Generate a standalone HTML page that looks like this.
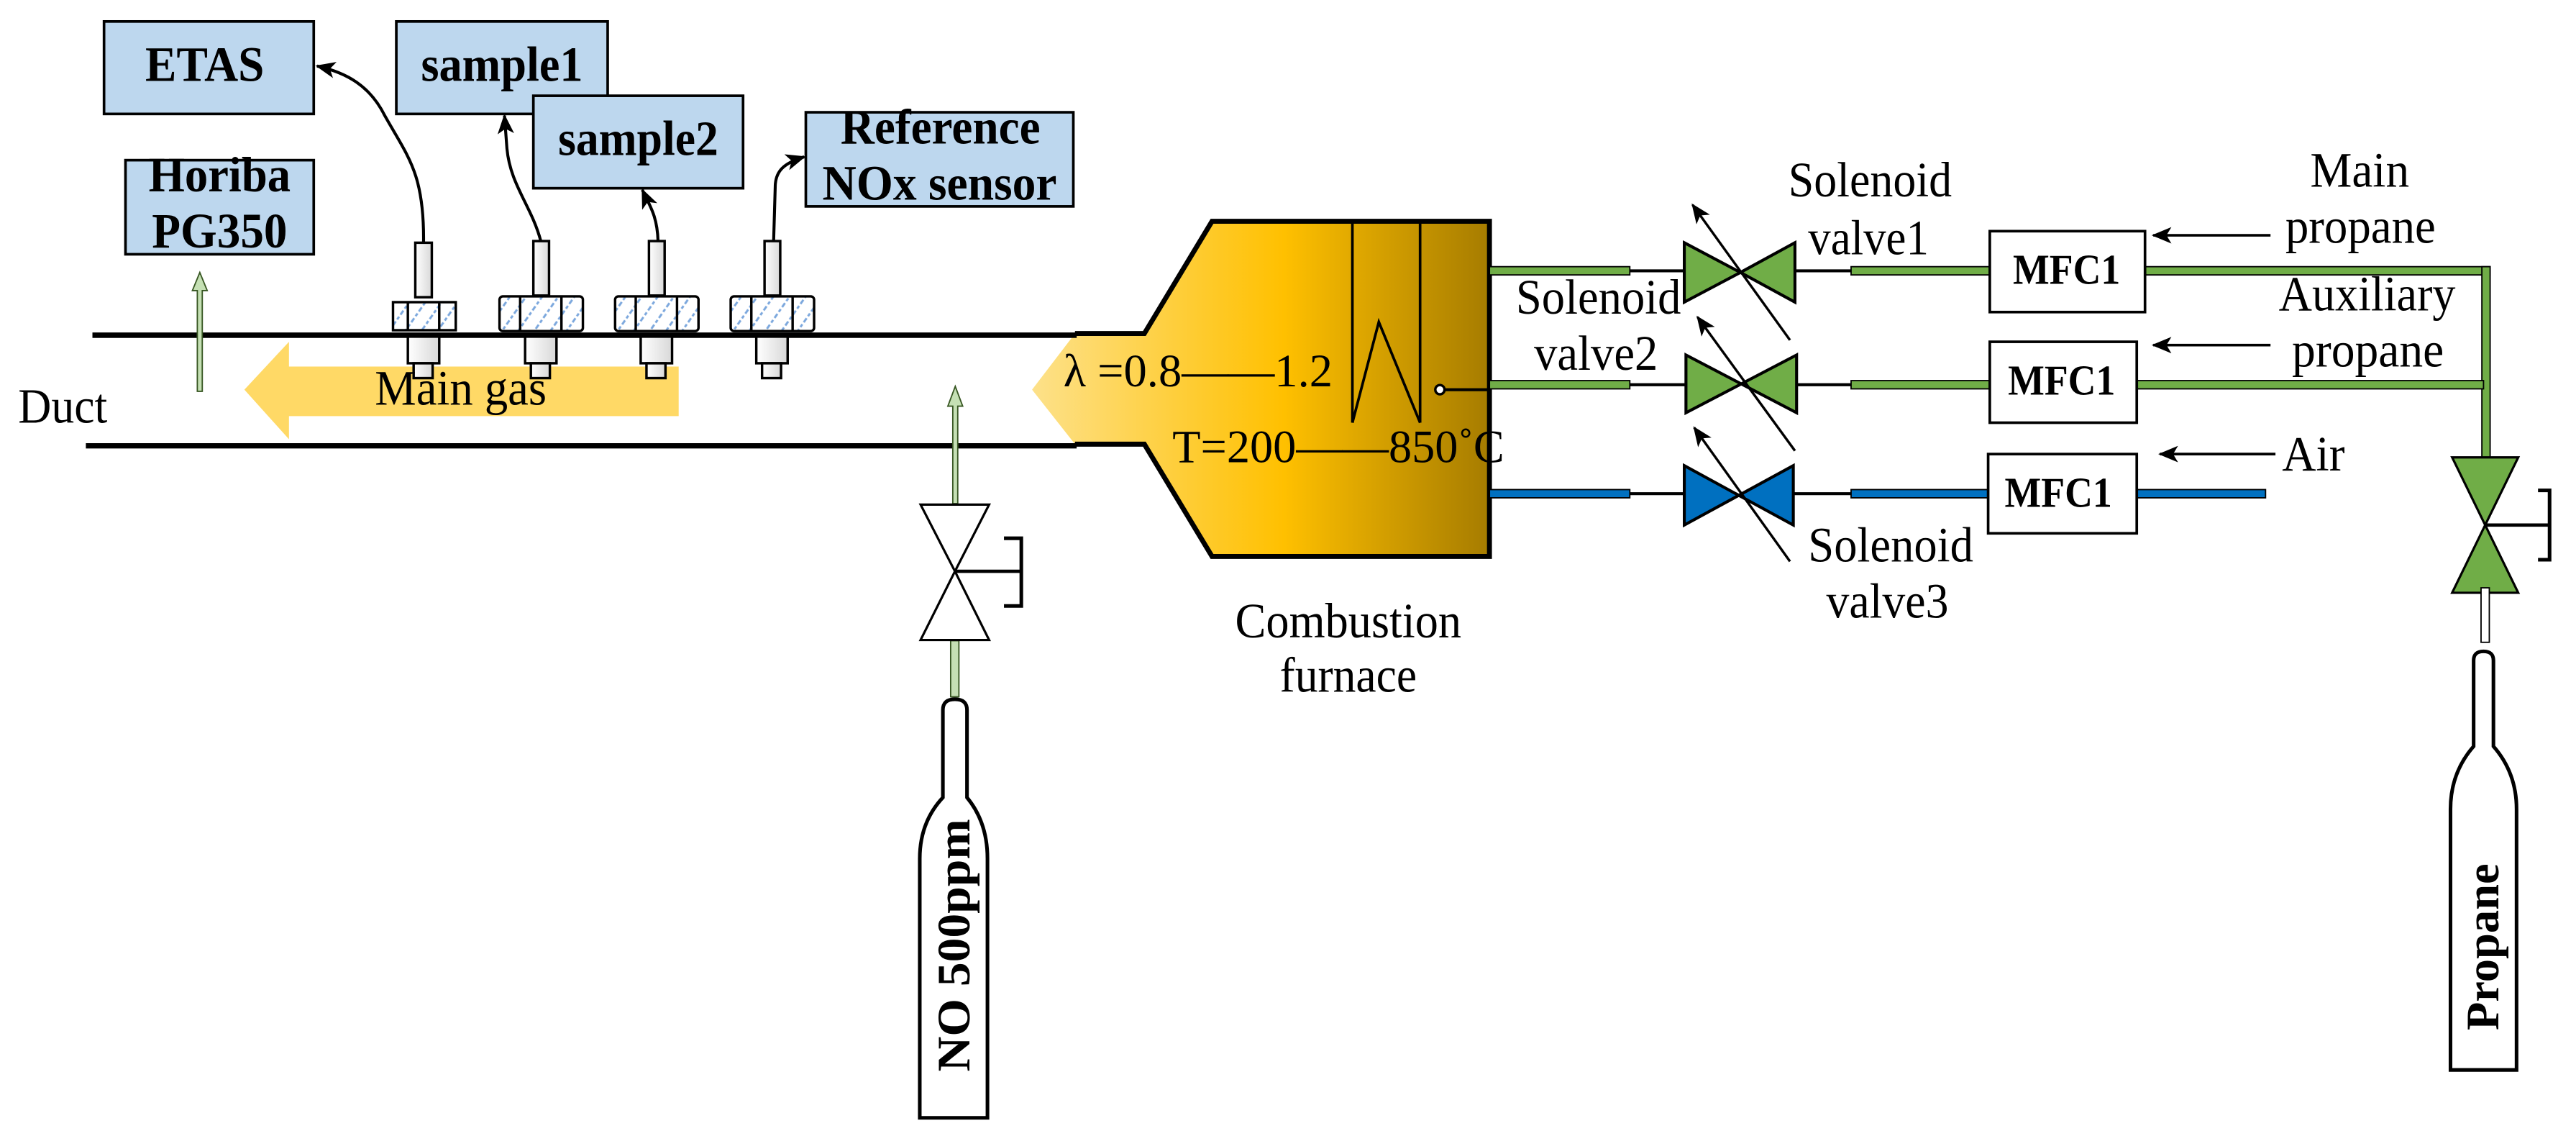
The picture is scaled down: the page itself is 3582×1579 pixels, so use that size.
<!DOCTYPE html>
<html><head><meta charset="utf-8"><style>
html,body{margin:0;padding:0;background:#fff}
svg{display:block}
text{font-family:"Liberation Serif","Times New Roman",serif;fill:#000}
.b{font-weight:bold}
</style></head><body>
<svg width="3582" height="1579" viewBox="0 0 1560 688" preserveAspectRatio="none" xmlns="http://www.w3.org/2000/svg" font-family="Liberation Serif, serif">
<defs>
<linearGradient id="fg" x1="0" x2="1" y1="0" y2="0">
<stop offset="0" stop-color="#fde18a"/><stop offset="0.55" stop-color="#ffc000"/><stop offset="1" stop-color="#a67c00"/>
</linearGradient>
<linearGradient id="mg" x1="0" x2="1"><stop offset="0" stop-color="#fff"/><stop offset="1" stop-color="#d8d8d8"/></linearGradient>
<pattern id="hat" width="8" height="8" patternUnits="userSpaceOnUse" patternTransform="rotate(-55)">
<rect width="8" height="8" fill="#fff"/><line x1="0" y1="4" x2="8" y2="4" stroke="#7ba7dd" stroke-width="1.3" stroke-dasharray="2 1.5"/>
</pattern>
<marker id="ar" markerWidth="12" markerHeight="10" refX="11" refY="5" orient="auto" markerUnits="userSpaceOnUse">
<path d="M0,0 L12,5 L0,10 L3,5 Z" fill="#000"/></marker>
</defs>

<g fill="#bdd7ee" stroke="#000" stroke-width="1.6">
<rect x="63" y="13" width="127" height="56"/>
<rect x="240" y="13" width="128" height="56"/>
<rect x="323" y="58" width="127" height="56"/>
<rect x="488" y="68" width="162" height="57"/>
<rect x="76" y="97" width="114" height="57"/>
</g>
<g class="b" font-size="30" font-weight="bold" font-family="Liberation Serif, serif">
<text x="88" y="49" textLength="72" lengthAdjust="spacingAndGlyphs">ETAS</text>
<text x="255" y="49" textLength="98" lengthAdjust="spacingAndGlyphs">sample1</text>
<text x="338" y="94" textLength="97" lengthAdjust="spacingAndGlyphs">sample2</text>
<text x="509" y="87" textLength="121" lengthAdjust="spacingAndGlyphs">Reference</text>
<text x="498" y="121" textLength="142" lengthAdjust="spacingAndGlyphs">NOx sensor</text>
<text x="90" y="116" textLength="86" lengthAdjust="spacingAndGlyphs">Horiba</text>
<text x="92" y="150" textLength="82" lengthAdjust="spacingAndGlyphs">PG350</text>
</g>

<polygon points="148,236 175,207 175,222 411,222 411,252 175,252 175,266" fill="#ffd966"/>
<polygon points="734,134 902,134 902,337 734,337 693,269 651,269 625,236 651,202 693,202" fill="url(#fg)"/>
<polyline points="651,202 693,202 734,134 902,134 902,337 734,337 693,269 651,269" fill="none" stroke="#000" stroke-width="3"/>
<line x1="56" y1="203" x2="652" y2="203" stroke="#000" stroke-width="3.2"/>
<line x1="52" y1="270" x2="652" y2="270" stroke="#000" stroke-width="3.2"/>
<line x1="819" y1="134" x2="819" y2="256" stroke="#000" stroke-width="1.6"/>
<line x1="860" y1="134" x2="860" y2="256" stroke="#000" stroke-width="1.6"/>
<polyline points="819,256 835,195 860,256" fill="none" stroke="#000" stroke-width="1.6"/>
<line x1="874" y1="236" x2="902" y2="236" stroke="#000" stroke-width="1.8"/>
<circle cx="872" cy="236" r="2.8" fill="#fff" stroke="#000" stroke-width="1.5"/>
<g font-family="Liberation Serif, serif">
<text x="644" y="234" font-size="28" textLength="163" lengthAdjust="spacingAndGlyphs">λ =0.8——1.2</text>
<text x="710" y="280" font-size="28" textLength="201" lengthAdjust="spacingAndGlyphs">T=200——850˚C</text>
</g>

<g stroke="#000" stroke-width="1.5">
<g id="s1">
<rect x="251.5" y="147" width="10" height="33" fill="url(#mg)"/>
<rect x="238" y="183" width="38" height="17" fill="url(#hat)"/>
<line x1="247" y1="183" x2="247" y2="200"/><line x1="266" y1="183" x2="266" y2="200"/>
<rect x="247" y="203" width="19" height="17" fill="url(#mg)"/>
<rect x="250.5" y="220" width="11.5" height="9" fill="url(#mg)"/>
</g>
<g id="s2">
<rect x="323" y="146" width="9.5" height="33" fill="url(#mg)"/>
<rect x="302.5" y="179.5" width="50.5" height="21" rx="2" fill="url(#hat)"/>
<line x1="315" y1="180" x2="315" y2="200"/><line x1="340" y1="180" x2="340" y2="200"/>
<rect x="318" y="203" width="19" height="17" fill="url(#mg)"/>
<rect x="321.5" y="220" width="11.5" height="9" fill="url(#mg)"/>
</g>
<use href="#s2" x="70"/>
<use href="#s2" x="140"/>
</g>
<line x1="56" y1="203" x2="652" y2="203" stroke="#000" stroke-width="3.2"/>

<g fill="none" stroke="#000" stroke-width="1.8" marker-end="url(#ar)">
<path d="M256.5 147 C257 105 247 95 233 70 C224 52 210 44 192 40"/>
<path d="M327.5 146 C322 125 309 112 307 90 L305.5 70"/>
<path d="M398.5 146 C398 130 393 124 389 115"/>
<path d="M468.5 146 L469.5 112 C470 104 474 99 487 95"/>
</g>

<g font-family="Liberation Serif, serif" font-size="30">
<text x="11" y="256" textLength="54" lengthAdjust="spacingAndGlyphs">Duct</text>
<text x="227" y="245" textLength="104" lengthAdjust="spacingAndGlyphs">Main gas</text>
</g>

<g fill="#c5e0b4" stroke="#385723" stroke-width="0.8">
<polygon points="119.5,237 119.5,176 116.5,176 121,165 125.5,176 122.5,176 122.5,237"/>
<polygon points="577,305 577,246 574,246 578.5,234 583,246 580,246 580,305"/>
<rect x="575.7" y="388" width="5" height="34"/>
</g>
<g stroke="#000" stroke-width="1.4" fill="#fff">
<polygon points="557.5,305.6 599,305.6 578.3,346 557.5,387.6 599,387.6 578.3,346"/>
</g>
<polyline points="578,346 618.5,346" stroke="#000" stroke-width="2" fill="none"/>
<polyline points="608,326 618.5,326 618.5,367 608,367" stroke="#000" stroke-width="2.2" fill="none"/>
<path d="M571 483 L571 430 Q571 423.5 578.3 423.5 Q585.6 423.5 585.6 430 L585.6 483 Q598 498 598 520 L598 677 L557 677 L557 520 Q557 498 571 483 Z" fill="#fff" stroke="#000" stroke-width="2.2"/>
<text font-family="Liberation Serif, serif" font-weight="bold" font-size="28" transform="translate(587 649) rotate(-90)" textLength="153" lengthAdjust="spacingAndGlyphs">NO 500ppm</text>

<g stroke="#000" stroke-width="1.8">
<line x1="987" y1="164" x2="1020" y2="164"/><line x1="1087" y1="164" x2="1121" y2="164"/>
<line x1="987" y1="233" x2="1021" y2="233"/><line x1="1088" y1="233" x2="1121" y2="233"/>
<line x1="987" y1="299" x2="1020" y2="299"/><line x1="1086" y1="299" x2="1121" y2="299"/>
</g>
<g stroke="#000" stroke-width="0.8">
<rect x="902" y="161.5" width="85" height="5" fill="#70ad47"/>
<rect x="1121" y="161.5" width="84" height="5" fill="#70ad47"/>
<rect x="1299" y="161.5" width="209" height="5" fill="#70ad47"/>
<rect x="1503" y="161.5" width="5" height="116" fill="#70ad47"/>
<rect x="902" y="230.5" width="85" height="5" fill="#70ad47"/>
<rect x="1121" y="230.5" width="84" height="5" fill="#70ad47"/>
<rect x="1294" y="230.5" width="210" height="5" fill="#70ad47"/>
<rect x="902" y="296.5" width="85" height="5" fill="#0070c0"/>
<rect x="1121" y="296.5" width="84" height="5" fill="#0070c0"/>
<rect x="1294" y="296.5" width="78" height="5" fill="#0070c0"/>
</g>
<g stroke="#000" stroke-width="1.8">
<polygon points="1020,147 1054,165 1020,183" fill="#70ad47"/><polygon points="1087,147 1054,165 1087,183" fill="#70ad47"/>
<polygon points="1021,215 1054.5,232.5 1021,250" fill="#70ad47"/><polygon points="1088,215 1054.5,232.5 1088,250" fill="#70ad47"/>
<polygon points="1020,282 1053,300 1020,318" fill="#0070c0"/><polygon points="1086,282 1053,300 1086,318" fill="#0070c0"/>
</g>
<g stroke="#000" stroke-width="1.5" marker-end="url(#ar)">
<line x1="1084" y1="206" x2="1025" y2="124"/>
<line x1="1087" y1="273" x2="1028" y2="192"/>
<line x1="1084" y1="340" x2="1026" y2="259"/>
</g>
<g fill="#fff" stroke="#000" stroke-width="1.6">
<rect x="1205" y="140" width="94" height="49"/>
<rect x="1205" y="207" width="89" height="49"/>
<rect x="1204" y="275" width="90" height="48"/>
</g>
<g font-family="Liberation Serif, serif" font-weight="bold" font-size="26">
<text x="1219" y="172" textLength="65" lengthAdjust="spacingAndGlyphs">MFC1</text>
<text x="1216" y="239" textLength="65" lengthAdjust="spacingAndGlyphs">MFC1</text>
<text x="1214" y="307" textLength="65" lengthAdjust="spacingAndGlyphs">MFC1</text>
</g>
<g stroke="#000" stroke-width="1.6" marker-end="url(#ar)">
<line x1="1375" y1="142.5" x2="1304" y2="142.5"/>
<line x1="1375" y1="209" x2="1304" y2="209"/>
<line x1="1378" y1="275" x2="1308" y2="275"/>
</g>
<g font-family="Liberation Serif, serif" font-size="30">
<text x="1083" y="119" textLength="99" lengthAdjust="spacingAndGlyphs">Solenoid</text>
<text x="1095" y="154" textLength="73" lengthAdjust="spacingAndGlyphs">valve1</text>
<text x="918" y="190" textLength="100" lengthAdjust="spacingAndGlyphs">Solenoid</text>
<text x="929" y="224" textLength="75" lengthAdjust="spacingAndGlyphs">valve2</text>
<text x="1095" y="340" textLength="100" lengthAdjust="spacingAndGlyphs">Solenoid</text>
<text x="1106" y="374" textLength="74" lengthAdjust="spacingAndGlyphs">valve3</text>
<text x="1399" y="113" textLength="60" lengthAdjust="spacingAndGlyphs">Main</text>
<text x="1384" y="147" textLength="91" lengthAdjust="spacingAndGlyphs">propane</text>
<text x="1380" y="188" textLength="107" lengthAdjust="spacingAndGlyphs">Auxiliary</text>
<text x="1388" y="222" textLength="92" lengthAdjust="spacingAndGlyphs">propane</text>
<text x="1382" y="285" textLength="38" lengthAdjust="spacingAndGlyphs">Air</text>
<text x="748" y="386" textLength="137" lengthAdjust="spacingAndGlyphs">Combustion</text>
<text x="775" y="419" textLength="83" lengthAdjust="spacingAndGlyphs">furnace</text>
</g>

<g stroke="#000" stroke-width="1.4" fill="#70ad47">
<polygon points="1485,277 1525,277 1505,318 1485,359 1525,359 1505,318"/>
</g>
<line x1="1505" y1="318" x2="1544" y2="318" stroke="#000" stroke-width="2"/>
<polyline points="1537,297 1544,297 1544,339 1537,339" stroke="#000" stroke-width="2.2" fill="none"/>
<rect x="1502.5" y="356" width="5" height="33" fill="#fff" stroke="#000" stroke-width="0.8"/>
<path d="M1498 452 L1498 400 Q1498 394.5 1504 394.5 Q1510 394.5 1510 400 L1510 452 Q1524 468 1524 490 L1524 648 L1484 648 L1484 490 Q1484 468 1498 452 Z" fill="#fff" stroke="#000" stroke-width="2.2"/>
<text font-family="Liberation Serif, serif" font-weight="bold" font-size="28" transform="translate(1513 624) rotate(-90)" textLength="101" lengthAdjust="spacingAndGlyphs">Propane</text>
</svg>
</body></html>
